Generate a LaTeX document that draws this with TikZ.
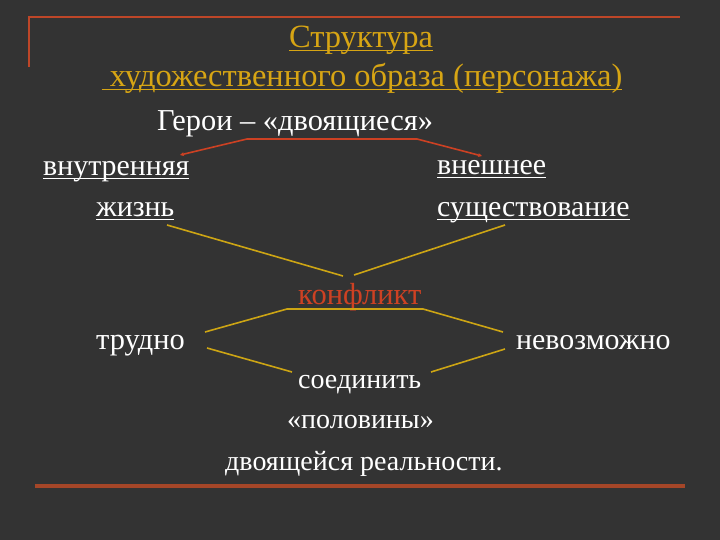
\documentclass[tikz,border=0pt]{standalone}
\usepackage{fontspec}
\setmainfont{Liberation Serif}
\usetikzlibrary{arrows.meta}
\definecolor{slidebg}{HTML}{333333}
\definecolor{titlegold}{RGB}{215,165,20}
\definecolor{linegold}{RGB}{205,165,20}
\definecolor{bracketred}{RGB}{205,65,35}
\definecolor{framered}{RGB}{190,70,40}
\definecolor{bottomred}{RGB}{165,70,40}
\newcommand{\undl}[1]{\setbox0=\hbox{#1}\rlap{\rule[-3.5pt]{\wd0}{1.6pt}}\box0}
\tikzset{>=stealth,
    word/.style={inner sep=0pt, anchor=base west, text=white,
        font=\fontsize{28}{32}\selectfont},
    bigword/.style={word, font=\fontsize{29.9}{34}\selectfont},
    title/.style={word, anchor=base, text=titlegold,
        font=\fontsize{32.5}{36}\selectfont},
    goldline/.style={draw=linegold, line width=1.6pt},
    redline/.style={draw=bracketred, line width=1.6pt, {Stealth[length=4pt,width=4pt]}-{Stealth[length=4pt,width=4pt]}},
}
\begin{document}
\begin{tikzpicture}[x=1pt,y=-1pt]
    \fill[slidebg] (0,0) rectangle (720,540);
    \useasboundingbox (0,0) rectangle (720,540);
    % frame of the slide
    \draw[framered, line width=1.5pt] (29,67) -- (29,17) -- (680,17);
    \draw[bottomred, line width=3.5pt] (35,486) -- (685,486);
    % title
    \node[title] (head) at (361,48) {\undl{Структура}};
    \node[title] (subhead) at (362,87) {\undl{\ художественного образа (персонажа)}};
    % heroes and their two halves
    \node[bigword, font=\fontsize{30.4}{34}\selectfont] (heroes) at (157,131) {Герои – «двоящиеся»};
    \node[bigword] (inner) at (43,176) {\undl{внутренняя}};
    \node[bigword] (life) at (96,217) {\undl{жизнь}};
    \node[bigword] (outer) at (437,175) {\undl{внешнее}};
    \node[bigword] (exist) at (437,217) {\undl{существование}};
    \node[bigword, font=\fontsize{30.5}{34}\selectfont, text=bracketred] (conflict) at (298,304) {конфликт};
    \node[bigword, font=\fontsize{30.4}{34}\selectfont] (hard) at (96,349) {трудно};
    \node[bigword] (imposs) at (516,349) {невозможно};
    \node[word] (join) at (298,388) {соединить};
    \node[word] (halves) at (287,428) {«половины»};
    \node[word] (dual) at (225,470) {двоящейся реальности.};
    % bends and free ends of the lines
    \coordinate (innerend) at (180,155);
    \coordinate (outerend) at (482,156);
    \coordinate (lbend) at (247,139);
    \coordinate (rbend) at (417,139);
    \coordinate (lifeend) at (167,225);
    \coordinate (existend) at (505,225);
    \coordinate (lmeet) at (343,276);
    \coordinate (rmeet) at (354,275);
    \coordinate (hardup) at (205,332);
    \coordinate (hardlow) at (207,348);
    \coordinate (impup) at (503,332);
    \coordinate (implow) at (505,349);
    \coordinate (cl) at (287,309);
    \coordinate (cr) at (423,309);
    \coordinate (jl) at (292,372);
    \coordinate (jr) at (431,372);
    \draw[redline] (innerend) -- (lbend) -- (rbend) -- (outerend);
    \draw[goldline] (lifeend) -- (lmeet);
    \draw[goldline] (existend) -- (rmeet);
    \draw[goldline] (hardup) -- (cl) -- (cr) -- (impup);
    \draw[goldline] (hardlow) -- (jl);
    \draw[goldline] (implow) -- (jr);
\end{tikzpicture}
\end{document}
